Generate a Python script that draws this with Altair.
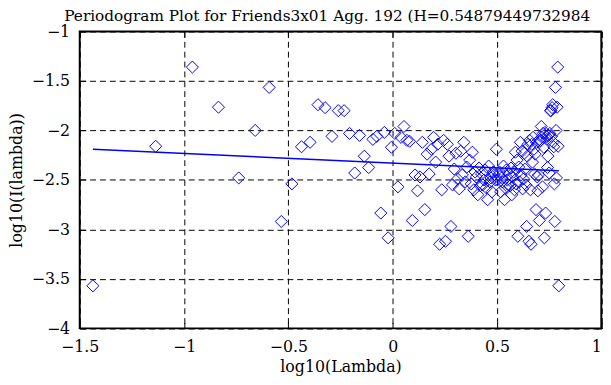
import altair as alt
import pandas as pd

# visible part of the title (the reference cuts it at the right edge)
TITLE = "Periodogram Plot for Friends3x01 Agg. 192 (H=0.54879449732984"
X_TITLE = "log10(Lambda)"
Y_TITLE = "log10(I(lambda))"

# log10 of the Fourier frequencies
log_lambda = [
    -1.437, -1.136, -0.960, -0.835, -0.738, -0.659, -0.592, -0.534, -0.483, -0.437,
    -0.396, -0.358, -0.324, -0.291, -0.261, -0.233, -0.207, -0.182, -0.159, -0.136,
    -0.115, -0.095, -0.076, -0.057, -0.040, -0.022, -0.006, 0.010, 0.025, 0.040,
    0.054, 0.068, 0.081, 0.094, 0.107, 0.119, 0.131, 0.142, 0.154, 0.165,
    0.175, 0.186, 0.196, 0.206, 0.216, 0.225, 0.235, 0.244, 0.253, 0.262,
    0.270, 0.279, 0.287, 0.295, 0.303, 0.311, 0.319, 0.326, 0.334, 0.341,
    0.348, 0.355, 0.362, 0.369, 0.376, 0.382, 0.389, 0.395, 0.401, 0.408,
    0.414, 0.420, 0.426, 0.432, 0.438, 0.443, 0.449, 0.455, 0.460, 0.466,
    0.471, 0.476, 0.482, 0.487, 0.492, 0.497, 0.502, 0.507, 0.512, 0.517,
    0.522, 0.526, 0.531, 0.536, 0.540, 0.545, 0.549, 0.554, 0.558, 0.563,
    0.567, 0.571, 0.575, 0.580, 0.584, 0.588, 0.592, 0.596, 0.600, 0.604,
    0.608, 0.612, 0.616, 0.620, 0.623, 0.627, 0.631, 0.635, 0.638, 0.642,
    0.645, 0.649, 0.653, 0.656, 0.660, 0.663, 0.666, 0.670, 0.673, 0.677,
    0.680, 0.683, 0.687, 0.690, 0.693, 0.696, 0.699, 0.703, 0.706, 0.709,
    0.712, 0.715, 0.718, 0.721, 0.724, 0.727, 0.730, 0.733, 0.736, 0.739,
    0.742, 0.744, 0.747, 0.750, 0.753, 0.756, 0.759, 0.761, 0.764, 0.767,
    0.769, 0.772, 0.775, 0.777, 0.780, 0.783, 0.785, 0.788, 0.791, 0.793,
    0.796,
]

# log10 of the periodogram values
log_I = [
    -3.57, -2.16, -1.36, -1.765, -2.48, -2.00, -1.565, -2.92, -2.54, -2.165,
    -2.12, -1.74, -1.77, -2.06, -1.80, -1.80, -2.03, -2.43, -2.05, -2.26,
    -2.375, -2.09, -2.06, -2.835, -2.02, -3.085, -2.17, -2.03, -2.57, -2.07,
    -1.96, -2.10, -2.11, -2.91, -2.45, -2.61, -2.47, -2.12, -2.80, -2.24,
    -2.44, -2.19, -2.07, -2.32, -2.14, -3.15, -2.60, -2.10, -3.12, -2.14,
    -2.26, -2.97, -2.55, -2.39, -2.23, -2.49, -2.59, -2.21, -2.45, -2.12,
    -2.52, -2.37, -3.07, -2.30, -2.54, -2.22, -2.60, -2.42, -2.47, -2.65,
    -2.38, -2.56, -2.44, -2.55, -2.50, -2.40, -2.58, -2.70, -2.36, -2.52,
    -2.48, -2.62, -2.42, -2.45, -2.50, -2.19, -2.50, -2.45, -2.42, -2.62,
    -2.48, -2.52, -2.36, -2.70, -2.58, -2.40, -2.50, -2.55, -2.44, -2.56,
    -2.38, -2.65, -2.47, -2.42, -2.60, -2.22, -2.54, -2.30, -3.07, -2.37,
    -2.52, -2.12, -2.45, -2.21, -2.59, -2.49, -2.23, -2.39, -2.55, -2.97,
    -2.26, -2.14, -3.12, -2.10, -2.60, -3.15, -2.14, -2.32, -2.07, -2.19,
    -2.44, -2.24, -2.80, -2.12, -2.47, -2.61, -2.45, -2.91, -2.11, -2.10,
    -1.96, -2.07, -2.57, -2.03, -2.17, -3.085, -2.02, -2.835, -2.06, -2.09,
    -2.375, -2.26, -2.05, -2.43, -2.03, -1.80, -1.80, -2.06, -1.77, -1.74,
    -2.12, -2.165, -2.54, -2.92, -1.565, -2.00, -2.48, -1.765, -1.36, -2.16,
    -3.57,
]

# least-squares fit line (slope = 1 - 2H)
fit_x = [-1.437, 0.796]
fit_y = [-2.19, -2.408]

x_ticks = [-1.5, -1, -0.5, 0, 0.5, 1]
y_ticks = [-4, -3.5, -3, -2.5, -2, -1.5, -1]

points_df = pd.DataFrame({"x": log_lambda, "y": log_I})
fit_df = pd.DataFrame({"x": fit_x, "y": fit_y})

FONT = "DejaVu Serif"
BLUE = "#0000ff"
W, H = 528.6, 300.9
PAD_L, PAD_T = 72.7, 21.3
PAD_R = 603 - PAD_L - W
PAD_B = 369 - PAD_T - H
TICK = 6

x_scale = alt.Scale(domain=[-1.5, 1], nice=False, zero=False)
y_scale = alt.Scale(domain=[-4, -1], nice=False, zero=False)

label_style = dict(
    labelFont=FONT, labelFontSize=16, labelColor="black",
    labelFlush=False, labelOverlap=False, format="~g",
)
tick_style = dict(
    domain=False, ticks=True, tickSize=TICK, tickColor="black",
    tickWidth=1, offset=-TICK,
)
grid_style = dict(
    grid=True, gridColor="black", gridDash=[6, 4], gridWidth=1, gridOpacity=1,
)
title_style = dict(
    titleFont=FONT, titleFontSize=16, titleFontWeight="normal",
    titleColor="black", titleBaseline="alphabetic",
)

x_axis = alt.Axis(
    orient="bottom", values=x_ticks, labelPadding=10.2, title=X_TITLE,
    labelAlign=alt.ExprRef(expr="datum.value >= 1 ? 'right' : 'center'"),
    titleX=W / 2, titleY=(PAD_T + H + 43.4) - (PAD_T + H - TICK),
    **label_style, **tick_style, **grid_style, **title_style,
)
y_axis = alt.Axis(
    orient="left", values=y_ticks, labelPadding=10.2, title=Y_TITLE,
    titleAngle=270, titleX=13.5 - (PAD_L + TICK), titleY=H / 2,
    **label_style, **tick_style, **grid_style, **title_style,
)
x_axis_top = alt.Axis(
    orient="top", values=x_ticks, labels=False, grid=False, title=None, **tick_style,
)
y_axis_right = alt.Axis(
    orient="right", values=y_ticks, labels=False, grid=False, title=None, **tick_style,
)

points = alt.Chart(points_df).mark_point(
    shape="diamond", filled=False, size=150, color=BLUE, strokeWidth=1, opacity=1,
).encode(
    x=alt.X("x:Q", scale=x_scale, axis=x_axis),
    y=alt.Y("y:Q", scale=y_scale, axis=y_axis),
)

fit = alt.Chart(fit_df).mark_line(color=BLUE, strokeWidth=1.5).encode(
    x=alt.X("x:Q", scale=x_scale, axis=x_axis_top),
    y=alt.Y("y:Q", scale=y_scale, axis=y_axis_right),
)

chart = (
    alt.layer(points, fit)
    .resolve_axis(x="independent", y="independent")
    .properties(
        width=W,
        height=H,
        title=alt.TitleParams(
            text=TITLE, anchor="start", frame="group", dx=57 - PAD_L, offset=-12.7,
            baseline="alphabetic", font=FONT, fontSize=15.5, fontWeight="normal",
            color="black",
        ),
        autosize=alt.AutoSizeParams(type="none"),
        padding={"left": PAD_L, "top": PAD_T, "right": PAD_R, "bottom": PAD_B},
        background="white",
    )
    .configure_view(stroke="black", strokeWidth=2)
)

chart.save("out.html", embed_options={"renderer": "svg", "actions": False})
